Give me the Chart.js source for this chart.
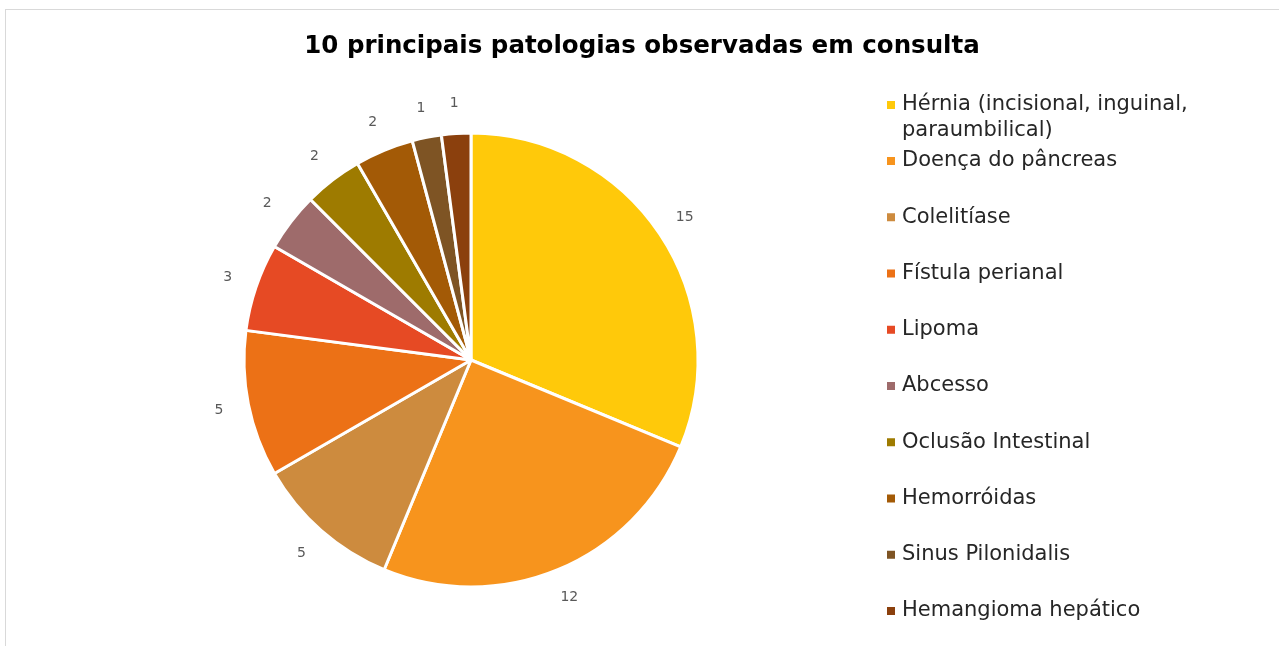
<!DOCTYPE html>
<html>
<head>
<meta charset="utf-8">
<script src="https://cdn.jsdelivr.net/npm/chart.js@4.4.1/dist/chart.umd.min.js"></script>
<style>
  html, body { margin: 0; padding: 0; background: #ffffff; }
  #wrap { width: 1279px; height: 646px; position: relative; }
</style>
</head>
<body>
<div id="wrap"><canvas id="c" width="1279" height="646"></canvas></div>
<script>
const titleText = '10 principais patologias observadas em consulta';
const categories = [
  'Hérnia (incisional, inguinal, paraumbilical)',
  'Doença do pâncreas',
  'Colelitíase',
  'Fístula perianal',
  'Lipoma',
  'Abcesso',
  'Oclusão Intestinal',
  'Hemorróidas',
  'Sinus Pilonidalis',
  'Hemangioma hepático'
];
const values = [15, 12, 5, 5, 3, 2, 2, 2, 1, 1];
const colors = ['#FFC90A', '#F7941D', '#CD8B3E', '#EC7116', '#E64A24', '#9E6B6B', '#9E7B00', '#A35A06', '#7E5424', '#8B400D'];

const FONT = '"DejaVu Sans", sans-serif';

const framePlugin = {
  id: 'frame',
  beforeDraw(chart) {
    const ctx = chart.ctx;
    ctx.save();
    ctx.fillStyle = '#ffffff';
    ctx.fillRect(0, 0, chart.width, chart.height);
    ctx.strokeStyle = '#d9d9d9';
    ctx.lineWidth = 1;
    ctx.strokeRect(5.5, 9.5, 1400, 700);
    ctx.restore();
  }
};

const titlePlugin = {
  id: 'customTitle',
  afterDraw(chart) {
    const ctx = chart.ctx;
    ctx.save();
    ctx.font = 'bold 24.5px ' + FONT;
    ctx.fillStyle = '#000000';
    ctx.textAlign = 'center';
    ctx.textBaseline = 'middle';
    ctx.fillText(titleText, 642, 47);
    ctx.restore();
  }
};

const valueLabels = {
  id: 'valueLabels',
  afterDatasetsDraw(chart) {
    const ctx = chart.ctx;
    const meta = chart.getDatasetMeta(0);
    ctx.save();
    ctx.font = '14px ' + FONT;
    ctx.fillStyle = '#595959';
    ctx.textAlign = 'center';
    ctx.textBaseline = 'middle';
    meta.data.forEach((arc, i) => {
      const p = arc.getProps(['x', 'y', 'startAngle', 'endAngle', 'outerRadius'], true);
      const mid = (p.startAngle + p.endAngle) / 2;
      const r = p.outerRadius + 30;
      ctx.fillText(String(values[i]), p.x + Math.cos(mid) * r, p.y + Math.sin(mid) * r);
    });
    ctx.restore();
  }
};

const legendPlugin = {
  id: 'customLegend',
  afterDraw(chart) {
    const ctx = chart.ctx;
    ctx.save();
    ctx.font = '21px ' + FONT;
    ctx.textBaseline = 'middle';
    ctx.textAlign = 'left';
    const boxX = 887, textX = 902, maxW = 305, lineH = 26;
    categories.forEach((label, i) => {
      const y = i === 0 ? 105 : 161 + (i - 1) * 56.25;
      const words = label.split(' ');
      const lines = [];
      let cur = '';
      words.forEach(w => {
        const test = cur ? cur + ' ' + w : w;
        if (ctx.measureText(test).width > maxW && cur) { lines.push(cur); cur = w; }
        else cur = test;
      });
      if (cur) lines.push(cur);
      ctx.fillStyle = colors[i];
      ctx.fillRect(boxX, y - 4, 8, 8);
      ctx.fillStyle = '#262626';
      lines.forEach((ln, k) => ctx.fillText(ln, textX, y + k * lineH));
    });
    ctx.restore();
  }
};

new Chart(document.getElementById('c'), {
  type: 'pie',
  data: {
    labels: categories,
    datasets: [{
      data: values,
      backgroundColor: colors,
      borderColor: '#ffffff',
      borderWidth: 3
    }]
  },
  options: {
    responsive: false,
    animation: false,
    radius: 227,
    layout: { padding: { left: 244, right: 581, top: 133, bottom: 59 } },
    plugins: {
      legend: { display: false },
      title: { display: false },
      tooltip: { enabled: false }
    }
  },
  plugins: [framePlugin, valueLabels, legendPlugin, titlePlugin]
});
</script>
</body>
</html>
